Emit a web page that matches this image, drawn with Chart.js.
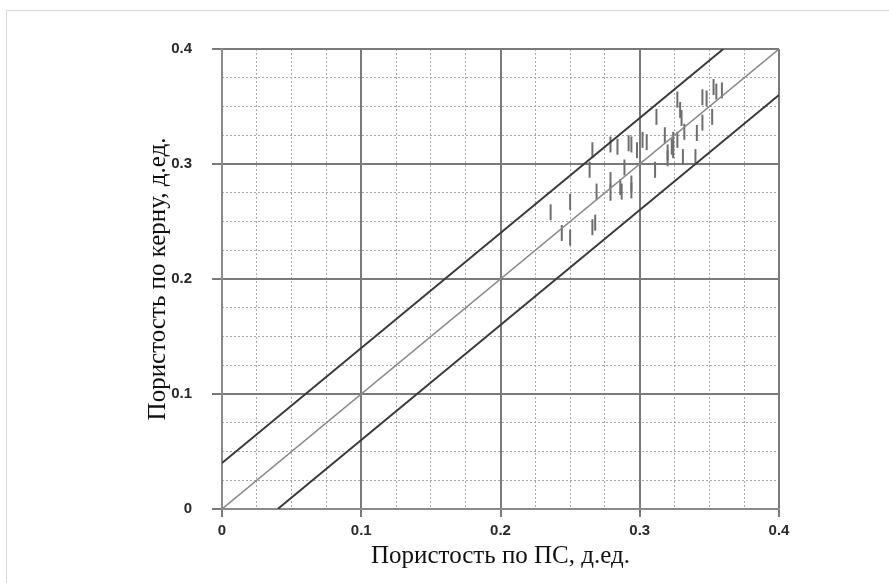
<!DOCTYPE html>
<html>
<head>
<meta charset="utf-8">
<script src="https://cdn.jsdelivr.net/npm/chart.js@4/dist/chart.umd.min.js"></script>
<style>
  html, body { margin: 0; padding: 0; background: #fff; }
  #wrap { position: relative; width: 889px; height: 583px; }
  #frame { position: absolute; left: 6px; top: 10px; width: 900px; height: 600px; border: 1px solid #d8d8d8; box-sizing: border-box; pointer-events: none; }
  canvas { position: absolute; left: 0; top: 0; }
</style>
</head>
<body>
<div id="wrap">
  <canvas id="c" width="889" height="583"></canvas>
  <div id="frame"></div>
</div>
<script>
// Axis ticks
const xTickLabels = ["0", "0.1", "0.2", "0.3", "0.4"];
const yTickLabels = ["0", "0.1", "0.2", "0.3", "0.4"];
const xTitle = "Пористость по ПС, д.ед.";
const yTitle = "Пористость по керну, д.ед.";

// Reference lines (endpoints in data units)
const lineCenterX = [0, 0.4];
const lineCenterY = [0, 0.4];
const lineUpperX = [0, 0.36];
const lineUpperY = [0.04, 0.4];
const lineLowerX = [0.04, 0.4];
const lineLowerY = [0, 0.36];

// Measurements: porosity from SP log (x) vs core porosity (y)
const poroSP = [0.236, 0.250, 0.244, 0.250, 0.266, 0.268, 0.264, 0.266, 0.269, 0.279,
  0.279, 0.284, 0.287, 0.289, 0.292, 0.294, 0.294, 0.298, 0.302, 0.305,
  0.311, 0.312, 0.318, 0.320, 0.323, 0.324, 0.327, 0.329, 0.330, 0.331,
  0.332, 0.327, 0.341, 0.340, 0.345, 0.345, 0.348, 0.352, 0.353, 0.355,
  0.359, 0.324, 0.320, 0.286, 0.294, 0.279];
const poroCore = [0.258, 0.267, 0.240, 0.236, 0.245, 0.249, 0.295, 0.312, 0.276, 0.317,
  0.286, 0.315, 0.276, 0.297, 0.318, 0.317, 0.283, 0.312, 0.321, 0.319,
  0.295, 0.341, 0.325, 0.305, 0.315, 0.312, 0.356, 0.347, 0.340, 0.306,
  0.328, 0.321, 0.327, 0.306, 0.336, 0.358, 0.357, 0.341, 0.367, 0.363,
  0.364, 0.321, 0.310, 0.280, 0.277, 0.275];

const toPts = (xs, ys) => xs.map((x, i) => ({ x: x, y: ys[i] }));

const tickFont = { family: "'Liberation Sans', Arial, sans-serif", size: 15, weight: 'bold' };
const titleFont = { family: "'Liberation Serif', 'Times New Roman', serif", size: 25 };

new Chart(document.getElementById('c'), {
  type: 'scatter',
  data: {
    datasets: [
      { type: 'line', data: toPts(lineUpperX, lineUpperY), borderColor: '#3a3a3a', borderWidth: 2, pointRadius: 0, fill: false },
      { type: 'line', data: toPts(lineLowerX, lineLowerY), borderColor: '#3a3a3a', borderWidth: 2, pointRadius: 0, fill: false },
      { type: 'line', data: toPts(lineCenterX, lineCenterY), borderColor: '#8a8a8a', borderWidth: 1.5, pointRadius: 0, fill: false },
      { data: toPts(poroSP, poroCore), pointStyle: 'line', rotation: 90, pointRadius: 8, borderColor: '#6e6e6e', borderWidth: 2, backgroundColor: '#6e6e6e' }
    ]
  },
  options: {
    responsive: false,
    animation: false,
    plugins: { legend: { display: false }, tooltip: { enabled: false } },
    layout: { padding: { top: 49, right: 110, left: 0, bottom: 0 } },
    scales: {
      xMinor: {
        type: 'linear', position: 'bottom', min: 0, max: 0.4, z: -1,
        ticks: { display: false, stepSize: 0.025 },
        grid: { color: '#a8a8a8', lineWidth: 1, drawTicks: false },
        border: { display: false, dash: [2, 2] },
        afterFit: s => { s.height = 0; }
      },
      yMinor: {
        type: 'linear', position: 'left', min: 0, max: 0.4, z: -1,
        ticks: { display: false, stepSize: 0.025 },
        grid: { color: '#a8a8a8', lineWidth: 1, drawTicks: false },
        border: { display: false, dash: [2, 2] },
        afterFit: s => { s.width = 0; }
      },
      x: {
        type: 'linear', position: 'bottom', min: 0, max: 0.4,
        ticks: { stepSize: 0.1, color: '#2a2a2a', font: tickFont, padding: 5, maxRotation: 0,
          callback: (v, i) => xTickLabels[i] },
        grid: { color: '#7a7a7a', lineWidth: 2, tickLength: 8 },
        border: { color: '#8a8a8a', width: 2 },
        title: { display: true, text: xTitle, color: '#111', font: titleFont, padding: { top: 0, bottom: 12 } },
        afterFit: s => { s.height = 74; }
      },
      y: {
        type: 'linear', position: 'left', min: 0, max: 0.4,
        ticks: { stepSize: 0.1, color: '#2a2a2a', font: tickFont, padding: 20,
          callback: (v, i) => yTickLabels[i] },
        grid: { color: '#7a7a7a', lineWidth: 2, tickLength: 10 },
        border: { color: '#8a8a8a', width: 2 },
        title: { display: true, text: yTitle, color: '#111', font: titleFont, padding: { top: 143, bottom: 0 } },
        afterFit: s => { s.width = 222; }
      }
    }
  }
});
</script>
</body>
</html>
